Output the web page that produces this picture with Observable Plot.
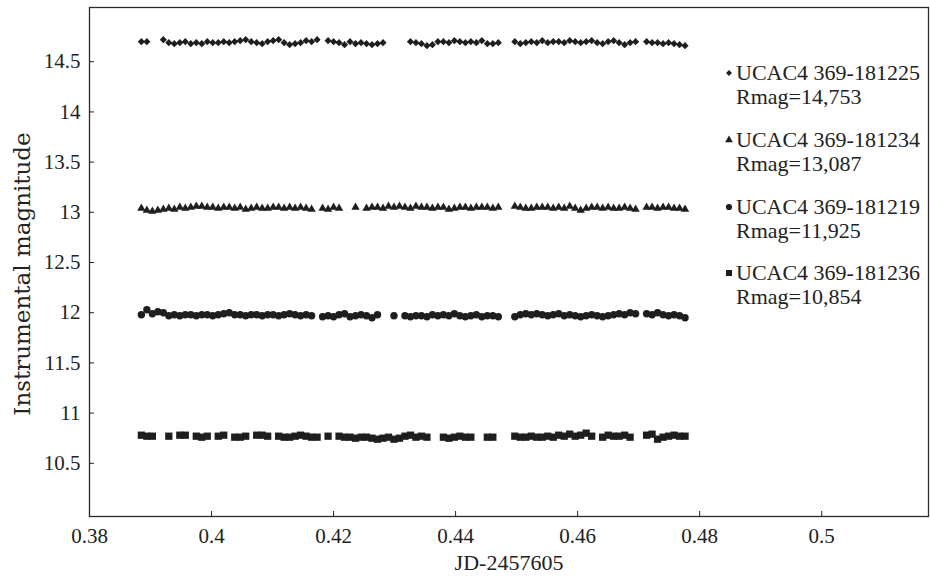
<!DOCTYPE html>
<html><head><meta charset="utf-8">
<script src="https://cdn.jsdelivr.net/npm/d3@7"></script>
<script src="https://cdn.jsdelivr.net/npm/@observablehq/plot@0.6"></script>
<style>
body{margin:0;background:#fff;}
#wrap{position:relative;width:930px;height:577px;}
.lg{position:absolute;font-family:"Liberation Serif",serif;font-size:22px;color:#222;white-space:nowrap;line-height:24px;}
.lgsym{position:absolute;}
</style></head><body><div id="wrap"></div>
<script>
// JD - 2457605
const times = [
0.3885,0.3894,0.3903,0.3912,0.3921,0.3930,0.3939,0.3948,0.3957,0.3966,
0.3975,0.3984,0.3993,0.4002,0.4011,0.4020,0.4029,0.4038,0.4047,0.4056,
0.4065,0.4074,0.4083,0.4092,0.4101,0.4110,0.4119,0.4128,0.4137,0.4146,
0.4155,0.4164,0.4173,0.4182,0.4191,0.4200,0.4209,0.4218,0.4227,0.4236,
0.4245,0.4254,0.4263,0.4272,0.4281,0.4290,0.4299,0.4308,0.4317,0.4326,
0.4335,0.4344,0.4353,0.4362,0.4371,0.4380,0.4389,0.4398,0.4407,0.4416,
0.4425,0.4434,0.4443,0.4452,0.4461,0.4470,0.4479,0.4488,0.4497,0.4506,
0.4515,0.4524,0.4533,0.4542,0.4551,0.4560,0.4569,0.4578,0.4587,0.4596,
0.4605,0.4614,0.4623,0.4632,0.4641,0.4650,0.4659,0.4668,0.4677,0.4686,
0.4695,0.4704,0.4713,0.4722,0.4731,0.4740,0.4749,0.4758,0.4767,0.4776];

const mag181225 = [
14.70,14.70,null,null,14.72,14.69,14.68,14.69,14.70,14.68,
14.69,14.68,14.70,14.69,14.69,14.70,14.69,14.70,14.71,14.72,
14.70,14.69,14.68,14.70,14.71,14.72,14.69,14.67,14.68,14.69,
14.71,14.70,14.72,null,14.71,14.70,14.69,14.67,14.70,14.68,
14.69,14.68,14.67,14.68,14.69,null,null,null,null,14.70,
14.69,14.68,14.66,14.67,14.70,14.70,14.69,14.71,14.70,14.69,
14.70,14.69,14.71,14.68,14.68,14.69,null,null,14.70,14.68,
14.69,14.70,14.69,14.71,14.69,14.70,14.70,14.69,14.71,14.70,
14.69,14.70,14.71,14.69,14.68,14.70,14.71,14.69,14.67,14.69,
14.70,null,14.70,14.69,14.69,14.68,14.69,14.68,14.67,14.66];

const mag181234 = [
13.04,13.02,13.01,13.02,13.03,13.04,13.03,13.05,13.04,13.05,
13.06,13.06,13.05,13.05,13.04,13.05,13.05,13.04,13.05,13.03,
13.04,13.05,13.04,13.04,13.05,13.05,13.04,13.05,13.04,13.05,
13.04,13.03,null,13.04,13.03,13.05,13.04,null,null,13.05,
null,13.04,13.05,13.05,13.04,13.06,13.05,13.06,13.05,13.04,
13.06,13.05,13.05,13.04,13.05,13.05,13.03,13.04,13.05,13.05,
13.04,13.05,13.05,13.05,13.04,13.05,null,null,13.06,13.05,
13.04,13.04,13.05,13.05,13.05,13.04,13.05,13.04,13.06,13.04,
13.02,13.04,13.05,13.05,13.04,13.05,13.04,13.04,13.05,13.04,
13.03,null,13.05,13.05,13.04,13.05,13.05,13.04,13.04,13.03];

const mag181219 = [
11.98,12.03,11.99,12.01,12.00,11.97,11.98,11.97,11.98,11.98,
11.97,11.98,11.98,11.97,11.98,11.99,12.00,11.98,11.98,11.97,
11.98,11.98,11.97,11.98,11.98,11.97,11.98,11.99,11.98,11.97,
11.98,11.97,null,11.96,11.97,11.96,11.98,11.99,11.96,11.97,
11.98,11.97,11.95,11.98,null,null,11.97,null,11.97,11.96,
11.97,11.97,11.96,11.98,11.97,11.98,11.97,11.99,11.97,11.96,
11.97,11.98,11.96,11.97,11.97,11.96,null,null,11.96,11.98,
11.99,11.98,11.99,11.98,11.97,11.98,11.99,11.97,11.98,11.97,
11.96,11.97,11.98,11.97,11.96,11.97,11.98,11.99,11.98,12.00,
11.99,null,11.99,11.98,12.00,11.98,11.97,11.98,11.97,11.95];

const mag181236 = [
10.78,10.77,10.77,null,null,10.77,null,10.78,10.78,null,
10.77,10.76,10.77,null,10.77,10.78,null,10.76,10.76,10.77,
null,10.78,10.78,10.77,null,10.77,10.76,10.76,10.77,10.78,
10.77,10.76,10.76,null,10.77,null,10.77,10.76,10.76,10.75,
10.76,10.76,10.75,10.74,10.75,10.76,10.74,10.75,10.77,10.78,
10.76,10.77,10.76,null,null,10.76,10.75,10.76,10.77,10.76,
10.76,null,null,10.76,10.76,null,null,null,10.77,10.76,
10.76,10.77,10.76,10.76,10.77,10.76,10.78,10.77,10.79,10.77,
10.78,10.80,10.77,null,10.76,10.78,10.77,10.77,10.78,10.76,
null,null,10.78,10.79,10.74,10.76,10.77,10.78,10.77,10.77];

const xTicks = [0.38,0.40,0.42,0.44,0.46,0.48,0.50];
const yTicks = [10.5,11,11.5,12,12.5,13,13.5,14,14.5];
const starNames = ["UCAC4 369-181225","UCAC4 369-181234","UCAC4 369-181219","UCAC4 369-181236"];
const starRmag = ["Rmag=14,753","Rmag=13,087","Rmag=11,925","Rmag=10,854"];
const starSymbols = ["diamond2","triangle","circle","square"];
const starSizes = [3.2,3.1,3.7,4.1];

const series = [mag181225, mag181234, mag181219, mag181236];
const ink = "#1e1e1e";

const dotMarks = series.map((s, k) => {
  const rows = times.map((t, i) => ({t, m: s[i]})).filter(d => d.m != null);
  return Plot.dot(rows, {x: "t", y: "m", symbol: () => starSymbols[k], r: starSizes[k], fill: ink, stroke: "none"});
});

const chart = Plot.plot({
  width: 930, height: 577,
  marginLeft: 89, marginRight: 2, marginTop: 7, marginBottom: 61,
  style: {fontFamily: "'Liberation Serif', serif", fontSize: "21px", color: "#222", background: "#fff"},
  x: {domain: [0.38, 0.5175]},
  y: {domain: [9.97, 15.04]},
  symbol: {type: "identity"},
  marks: [
    Plot.frame({stroke: "#2a2a2a", strokeWidth: 1.3}),
    Plot.axisX(xTicks, {tickSize: -5, tickPadding: 17, tickFormat: d => String(+d.toFixed(2)), label: null, fontSize: 21}),
    Plot.axisY(yTicks, {tickSize: -5, tickPadding: 14, tickFormat: d => String(d), label: null, fontSize: 21}),
    Plot.text(["JD-2457605"], {frameAnchor: "bottom", lineAnchor: "middle", dy: 46, fontSize: 22, fill: "#222"}),
    Plot.text(["Instrumental magnitude"], {frameAnchor: "left", textAnchor: "middle", lineAnchor: "middle", rotate: -90, dx: -67, dy: 12, fontSize: 23, fontFamily: "'DejaVu Serif', serif", fill: "#222"}),
    ...dotMarks
  ]
});

const wrap = document.getElementById("wrap");
wrap.appendChild(chart);

// legend overlay
const legendTop = [72.5, 139.5, 206.5, 272.5];
const symMap = {diamond2: d3.symbolDiamond2, triangle: d3.symbolTriangle, circle: d3.symbolCircle, square: d3.symbolSquare};
const legendSymSize = [22, 26, 30, 36];
starNames.forEach((name, k) => {
  const cy = legendTop[k];
  const svg = d3.create("svg").attr("class", "lgsym").attr("width", 12).attr("height", 12)
    .style("left", (729 - 6) + "px").style("top", (cy - 6) + "px");
  svg.append("path").attr("transform", "translate(6,6)").attr("d", d3.symbol(symMap[starSymbols[k]], legendSymSize[k])()).attr("fill", ink);
  wrap.appendChild(svg.node());
  const l1 = document.createElement("div");
  l1.className = "lg"; l1.textContent = name;
  l1.style.left = "736px"; l1.style.top = (cy - 12) + "px";
  wrap.appendChild(l1);
  const l2 = document.createElement("div");
  l2.className = "lg"; l2.textContent = starRmag[k];
  l2.style.left = "736px"; l2.style.top = (cy - 12 + 24.5) + "px";
  wrap.appendChild(l2);
});
</script>
</body></html>
